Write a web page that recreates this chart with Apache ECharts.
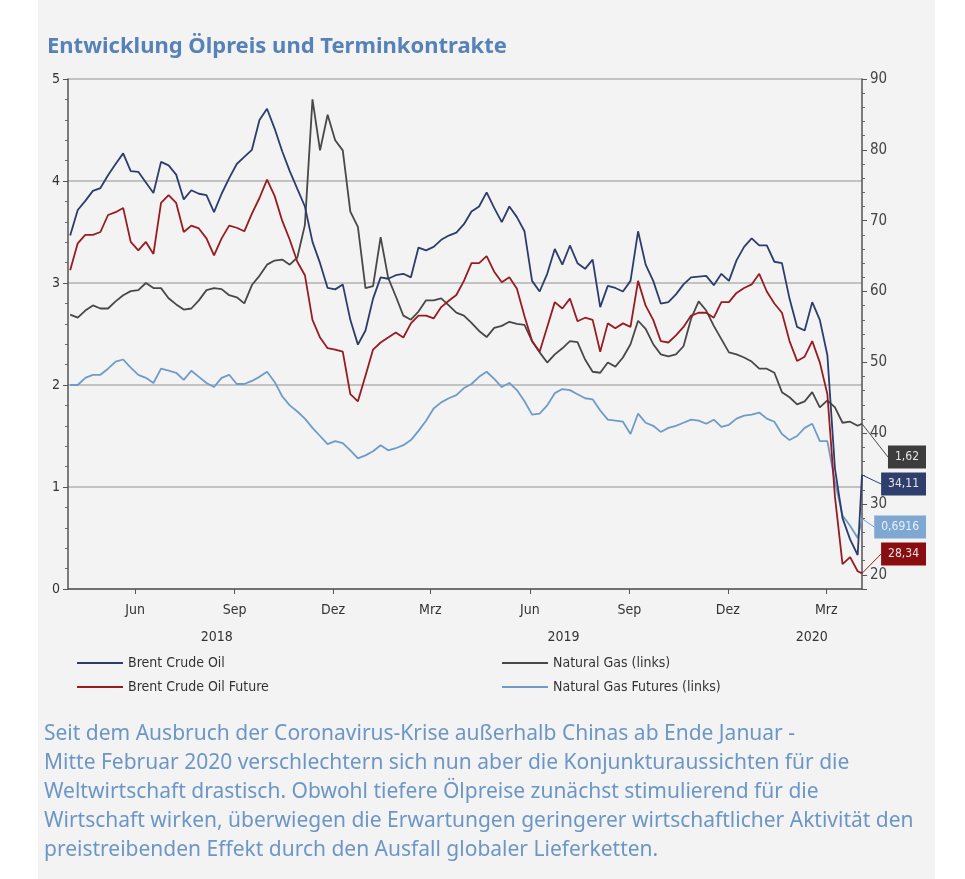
<!DOCTYPE html>
<html>
<head>
<meta charset="utf-8">
<script src="https://cdn.jsdelivr.net/npm/echarts@6/dist/echarts.min.js"></script>
<style>
  html, body { margin: 0; padding: 0; background: #ffffff; }
  #panel { position: absolute; left: 38px; top: 0; width: 897px; height: 879px; background: #f3f3f3; }
  #chart { position: absolute; left: 0; top: 0; width: 965px; height: 879px; }
</style>
</head>
<body>
<div id="panel"></div>
<div id="chart"></div>
<script>
// weekly observations, first Monday of April 2018, plus the last quote on 3 Apr 2020
var firstWeek = [2018, 3, 2];
var weekCount = 105;
var lastDay = [2020, 3, 3];

var seriesNames = ['Brent Crude Oil', 'Brent Crude Oil Future', 'Natural Gas (links)', 'Natural Gas Futures (links)'];

var brent = [
  67.9, 71.5, 72.8, 74.2, 74.6, 76.4, 78.0, 79.5, 77.0, 76.9, 75.4, 73.9,
  78.3, 77.8, 76.5, 73.0, 74.3, 73.8, 73.6, 71.2, 73.8, 76.0, 78.0, 79.0,
  80.0, 84.2, 85.8, 83.0, 79.8, 77.0, 74.5, 72.0, 67.0, 64.0, 60.5, 60.3,
  61.0, 56.0, 52.5, 54.5, 59.0, 62.0, 61.8, 62.3, 62.5, 62.0, 66.2, 65.8,
  66.3, 67.3, 67.9, 68.3, 69.5, 71.3, 72.0, 74.0, 71.8, 69.8, 72.0, 70.5,
  68.5, 61.5, 60.0, 62.5, 66.0, 63.8, 66.5, 64.0, 63.2, 64.5, 57.8, 60.8,
  60.5, 60.0, 61.5, 68.5, 63.8, 61.5, 58.3, 58.5, 59.6, 61.0, 62.0, 62.1,
  62.2, 60.9, 62.5, 61.5, 64.4, 66.3, 67.5, 66.5, 66.5, 64.2, 64.0, 59.0,
  55.0, 54.5, 58.5, 56.0, 51.0, 35.0, 28.0, 25.0, 22.8,
  34.11
];
var brentFuture = [
  63.0, 66.8, 68.0, 68.0, 68.4, 70.8, 71.2, 71.8, 67.0, 65.8, 67.0, 65.3,
  72.5, 73.6, 72.5, 68.4, 69.3, 68.9, 67.5, 65.1, 67.5, 69.3, 69.0, 68.5,
  71.0, 73.2, 75.8, 73.5, 70.0, 67.3, 64.2, 62.3, 56.0, 53.5, 52.0, 51.8,
  51.5, 45.5, 44.5, 48.1, 51.8, 52.8, 53.5, 54.2, 53.5, 55.5, 56.6, 56.6,
  56.2, 57.8, 58.7, 59.5, 61.5, 64.0, 64.0, 65.0, 62.8, 61.3, 62.0, 60.4,
  56.5, 53.0, 51.5, 55.0, 58.5, 57.6, 59.0, 55.8, 56.3, 56.0, 51.5, 55.5,
  54.8, 55.5, 55.0, 61.5, 58.0, 56.0, 53.0, 52.8, 53.8, 55.0, 56.6, 57.0,
  57.0, 56.3, 58.5, 58.5, 59.8, 60.5, 61.0, 62.5, 60.0, 58.3, 57.0, 53.0,
  50.2, 50.8, 53.0, 50.0, 45.5, 31.0, 21.5, 22.5, 20.5,
  20.2
];
var natGas = [
  2.69, 2.66, 2.73, 2.78, 2.75, 2.75, 2.82, 2.88, 2.92, 2.93, 3.00, 2.95,
  2.95, 2.85, 2.79, 2.74, 2.75, 2.83, 2.93, 2.95, 2.94, 2.88, 2.86, 2.80,
  2.98, 3.07, 3.18, 3.22, 3.23, 3.18, 3.25, 3.57, 4.80, 4.30, 4.65, 4.40,
  4.30, 3.70, 3.55, 2.95, 2.97, 3.45, 3.05, 2.87, 2.68, 2.64, 2.72, 2.83,
  2.83, 2.85, 2.78, 2.71, 2.68, 2.61, 2.53, 2.47, 2.56, 2.58, 2.62, 2.60,
  2.59, 2.43, 2.32, 2.22, 2.30, 2.36, 2.43, 2.42, 2.25, 2.13, 2.12, 2.22,
  2.18, 2.27, 2.40, 2.63, 2.55, 2.40, 2.30, 2.28, 2.30, 2.38, 2.65, 2.82,
  2.73, 2.58, 2.45, 2.32, 2.30, 2.27, 2.23, 2.16, 2.16, 2.12, 1.93, 1.88,
  1.81, 1.84, 1.93, 1.78, 1.85, 1.78, 1.63, 1.64, 1.60,
  1.62
];
var natGasFuture = [
  2.00, 2.00, 2.07, 2.10, 2.10, 2.16, 2.23, 2.25, 2.17, 2.10, 2.07, 2.02,
  2.16, 2.14, 2.12, 2.05, 2.14, 2.08, 2.02, 1.98, 2.07, 2.10, 2.01, 2.01,
  2.04, 2.08, 2.13, 2.03, 1.89, 1.80, 1.74, 1.67, 1.58, 1.50, 1.42, 1.45,
  1.43, 1.36, 1.28, 1.31, 1.35, 1.41, 1.36, 1.38, 1.41, 1.46, 1.55, 1.65,
  1.77, 1.83, 1.87, 1.90, 1.97, 2.01, 2.08, 2.13, 2.06, 1.98, 2.02, 1.95,
  1.84, 1.71, 1.72, 1.80, 1.92, 1.96, 1.95, 1.91, 1.87, 1.86, 1.75, 1.66,
  1.65, 1.64, 1.52, 1.72, 1.63, 1.60, 1.54, 1.58, 1.60, 1.63, 1.66, 1.65,
  1.62, 1.66, 1.59, 1.61, 1.67, 1.70, 1.71, 1.73, 1.67, 1.64, 1.52, 1.46,
  1.50, 1.58, 1.62, 1.45, 1.45, 1.05, 0.72, 0.62, 0.50,
  0.69
];

// value boxes at the right edge
var lastLabels = ['34,11', '28,34', '1,62', '0,6916'];

var monthTicks = [[2018, 5], [2018, 8], [2018, 11], [2019, 2], [2019, 5], [2019, 8], [2019, 11], [2020, 2]];
var monthNames = { 2: 'Mrz', 5: 'Jun', 8: 'Sep', 11: 'Dez' };
var years = [2018, 2019, 2020];

var leftTicks = [0, 1, 2, 3, 4, 5];

var textLines = [
  'Seit dem Ausbruch der Coronavirus-Krise außerhalb Chinas ab Ende Januar -',
  'Mitte Februar 2020 verschlechtern sich nun aber die Konjunkturaussichten für die',
  'Weltwirtschaft drastisch. Obwohl tiefere Ölpreise zunächst stimulierend für die',
  'Wirtschaft wirken, überwiegen die Erwartungen geringerer wirtschaftlicher Aktivität den',
  'preistreibenden Effekt durch den Ausfall globaler Lieferketten.'
];

var narrow = '"Liberation Sans Narrow", "DejaVu Sans Condensed", "Noto Sans", sans-serif';
var colors = ['#2c3d6c', '#971c22', '#484848', '#6e9bc8'];
var labelBg = ['#2e3f6e', '#8a0d10', '#3d3d3d', '#7ea8d2'];
var labelY = [484, 554, 457, 527];

var dates = [];
for (var i = 0; i < weekCount; i++) {
  dates.push(+new Date(firstWeek[0], firstWeek[1], firstWeek[2] + 7 * i));
}
dates.push(+new Date(lastDay[0], lastDay[1], lastDay[2]));

var axisMin = +new Date(2018, 2, 31);
var axisMax = +new Date(2020, 3, 3);

var monthValues = monthTicks.map(function (m) { return +new Date(m[0], m[1], 1); });
var yearValues = years.map(function (y) {
  var a = Math.max(axisMin, +new Date(y, 0, 1));
  var b = Math.min(axisMax, +new Date(y, 11, 31));
  return (a + b) / 2;
});

function makeSeries(idx, values, yIndex) {
  var data = values.map(function (v, i) { return [dates[i], v]; });
  var last = data.length - 1;
  data[last] = {
    value: data[last],
    symbol: 'circle',
    symbolSize: 1,
    label: {
      show: true,
      formatter: lastLabels[idx],
      backgroundColor: labelBg[idx],
      color: idx === 3 ? '#e9f0f8' : '#e6e6e6',
      fontFamily: narrow,
      fontSize: 12,
      padding: [6, 7, 5, 7]
    }
  };
  return {
    name: seriesNames[idx],
    type: 'line',
    xAxisIndex: 0,
    yAxisIndex: yIndex,
    symbol: 'none',
    showSymbol: true,
    showAllSymbol: true,
    z: 3 - idx * 0.1,
    lineStyle: { color: colors[idx], width: 1.8 },
    itemStyle: { color: colors[idx] },
    labelLine: { show: true, lineStyle: { color: colors[idx], width: 1 } },
    labelLayout: function () {
      return { x: 926, y: labelY[idx], align: 'right', verticalAlign: 'middle' };
    },
    data: data
  };
}

var chart = echarts.init(document.getElementById('chart'));
chart.setOption({
  animation: false,
  title: {
    text: 'Entwicklung Ölpreis und Terminkontrakte',
    left: 42,
    top: 31,
    textStyle: { color: '#5682b8', fontSize: 22, fontWeight: 'bold', fontFamily: '"Noto Sans", sans-serif' }
  },
  grid: { left: 68, right: 103, top: 79, bottom: 290, containLabel: false },
  legend: [
    {
      data: [seriesNames[0], seriesNames[1]],
      left: 72, top: 651, orient: 'vertical', icon: 'rect',
      itemWidth: 46, itemHeight: 2, itemGap: 10,
      textStyle: { fontFamily: narrow, fontSize: 14, color: '#333' }
    },
    {
      data: [seriesNames[2], seriesNames[3]],
      left: 497, top: 651, orient: 'vertical', icon: 'rect',
      itemWidth: 46, itemHeight: 2, itemGap: 10,
      textStyle: { fontFamily: narrow, fontSize: 14, color: '#333' }
    }
  ],
  xAxis: [
    {
      type: 'value',
      min: axisMin,
      max: axisMax,
      axisLine: { lineStyle: { color: '#555', width: 1.5 } },
      axisTick: { customValues: monthValues, length: 5, lineStyle: { color: '#555' } },
      splitLine: { show: false },
      axisLabel: {
        customValues: monthValues,
        margin: 14,
        fontFamily: narrow, fontSize: 14, color: '#333',
        formatter: function (v) { return monthNames[new Date(v).getMonth()]; }
      }
    },
    {
      type: 'value',
      min: axisMin,
      max: axisMax,
      position: 'bottom',
      offset: 29,
      axisLine: { show: false },
      axisTick: { show: false },
      splitLine: { show: false },
      axisLabel: {
        customValues: yearValues,
        margin: 12,
        fontFamily: narrow, fontSize: 14, color: '#333',
        formatter: function (v) { return String(new Date(v).getFullYear()); }
      }
    }
  ],
  yAxis: [
    {
      type: 'value',
      position: 'left',
      min: leftTicks[0],
      max: leftTicks[leftTicks.length - 1],
      interval: 1,
      axisLine: { show: true, lineStyle: { color: '#555', width: 1.5 } },
      axisTick: { show: true, length: 5, lineStyle: { color: '#555' } },
      minorTick: { show: true, splitNumber: 5, length: 3, lineStyle: { color: '#666' } },
      splitLine: { show: true, lineStyle: { color: '#b2b2b2', width: 1.5 } },
      axisLabel: { margin: 8, fontFamily: narrow, fontSize: 14, color: '#333' }
    },
    {
      type: 'value',
      position: 'right',
      min: 18,
      max: 90,
      splitNumber: 7,
      axisLine: { show: true, lineStyle: { color: '#555', width: 1.5 } },
      axisTick: { show: true, length: 5, lineStyle: { color: '#555' } },
      minorTick: { show: true, splitNumber: 5, length: 3, lineStyle: { color: '#666' } },
      splitLine: { show: false },
      axisLabel: { margin: 8, showMinLabel: false, fontFamily: narrow, fontSize: 15, color: '#444' }
    }
  ],
  graphic: [
    {
      type: 'text',
      left: 44,
      top: 720,
      style: {
        text: textLines.join('\n'),
        font: '21px "Noto Sans", sans-serif',
        lineHeight: 29,
        fill: '#6b96c6'
      }
    }
  ],
  series: [
    makeSeries(0, brent, 1),
    makeSeries(1, brentFuture, 1),
    makeSeries(2, natGas, 0),
    makeSeries(3, natGasFuture, 0)
  ]
});
</script>
</body>
</html>
